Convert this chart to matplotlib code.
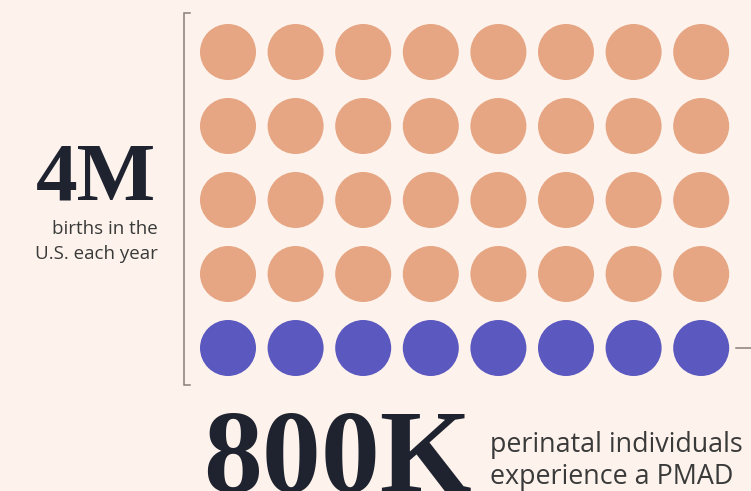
import numpy as np
import matplotlib.pyplot as plt
from matplotlib.patches import Circle

# data: 40 dots, each one ~100K births; the last row are the PMAD cases
total_births = 4_000_000
pmad_cases = 800_000
per_dot = 100_000
n_cols = 8
big_total = "4M"
big_pmad = "800K"
total_lines = ["births in the", "U.S. each year"]
pmad_lines = ["perinatal individuals", "experience a PMAD"]

bg = "#fdf3ec"
peach = "#e6a583"
purple = "#5b58c0"
ink = "#1f2330"
grey = "#3a3a3a"
rule = "#8a7f78"

n_dots = total_births // per_dot
n_pmad = pmad_cases // per_dot
n_rows = n_dots // n_cols

fig = plt.figure(figsize=(7.51, 4.91), dpi=100, facecolor=bg)
ax = fig.add_axes([0, 0, 1, 1])
ax.set_xlim(0, 751)
ax.set_ylim(491, 0)
ax.set_facecolor(bg)
ax.axis("off")

# dot grid
x0, dx = 228, 67.6
y0, dy = 52, 74
r = 28
for i in range(n_dots):
    row, col = divmod(i, n_cols)
    c = purple if i >= n_dots - n_pmad else peach
    ax.add_patch(Circle((x0 + col * dx, y0 + row * dy), r, color=c, lw=0))

# bracket on the left
ax.plot([190, 184, 184, 190], [13, 13, 385, 385], color=rule, lw=1.1,
        solid_joinstyle="miter")
# little pointer to the purple row
ax.plot([736, 751], [y0 + (n_rows - 1) * dy] * 2, color=rule, lw=1.1)

serif = "Liberation Serif"
sans = ["Open Sans", "DejaVu Sans"]

ax.text(156, 200, big_total, ha="right", va="baseline", fontsize=60,
        fontweight="bold", family=serif, color=ink)
ax.text(158, 234, total_lines[0], ha="right", va="baseline", fontsize=13.5,
        family=sans, color=grey)
ax.text(158, 259, total_lines[1], ha="right", va="baseline", fontsize=13.5,
        family=sans, color=grey)

ax.text(203, 492, big_pmad, ha="left", va="baseline", fontsize=85,
        fontweight="bold", family=serif, color=ink)
ax.text(490, 452, pmad_lines[0], ha="left", va="baseline", fontsize=19.4,
        family=sans, color=grey)
ax.text(490, 484, pmad_lines[1], ha="left", va="baseline", fontsize=19.4,
        family=sans, color=grey)

fig.savefig("out.png", dpi=100, facecolor=bg)
